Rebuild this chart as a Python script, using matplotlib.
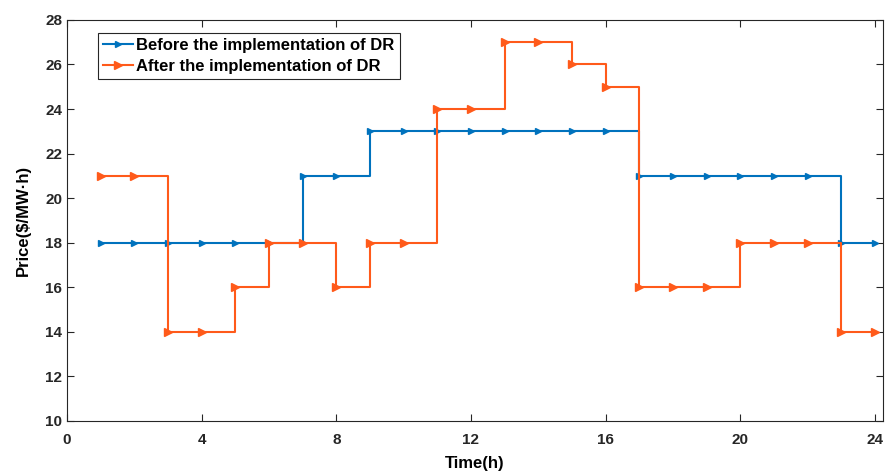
import numpy as np
import matplotlib
matplotlib.use('Agg')
import matplotlib.pyplot as plt

plt.rcParams['font.family'] = ['Liberation Sans', 'DejaVu Sans']
plt.rcParams['font.weight'] = 'bold'

hours = np.arange(1, 25)
price_before = [18, 18, 18, 18, 18, 18, 21, 21, 23, 23, 23, 23,
                23, 23, 23, 23, 21, 21, 21, 21, 21, 21, 18, 18]
price_after = [21, 21, 14, 14, 16, 18, 18, 16, 18, 18, 24, 24,
               27, 27, 26, 25, 16, 16, 16, 18, 18, 18, 14, 14]

blue = '#0072BD'
orange = '#FF5A1A'

fig = plt.figure(figsize=(8.96, 4.74), dpi=100)
ax = fig.add_axes([0.0748, 0.112, 0.9107, 0.846])

ax.step(hours, price_before, where='post', color=blue, lw=1.5,
        marker='>', markersize=4.5, label='Before the implementation of DR')
ax.step(hours, price_after, where='post', color=orange, lw=1.5,
        marker='>', markersize=6, label='After the implementation of DR')

ax.set_xlim(0, 24.24)
ax.set_xticks([0, 4, 8, 12, 16, 20, 24])
ax.set_ylim(10, 28)
ax.set_yticks(np.arange(10, 29, 2))
ax.set_xlabel('Time(h)', fontsize=12, fontweight='bold', labelpad=6)
ax.set_ylabel('Price($/MW·h)', fontsize=12, fontweight='bold', labelpad=10)
ax.tick_params(direction='in', top=True, right=True, labelsize=11,
               length=5, width=0.8, colors='#262626')
ax.tick_params(axis='x', pad=9)
for s in ax.spines.values():
    s.set_color('#262626')
    s.set_linewidth(0.8)

leg = ax.legend(loc='upper left', bbox_to_anchor=(0.038, 0.968), fontsize=12,
                fancybox=False, edgecolor='#262626', framealpha=1,
                handlelength=1.8, handletextpad=0.2, borderpad=0.3,
                labelspacing=0.35, borderaxespad=0)
leg.get_frame().set_linewidth(0.8)

fig.savefig('out.png', dpi=100)
